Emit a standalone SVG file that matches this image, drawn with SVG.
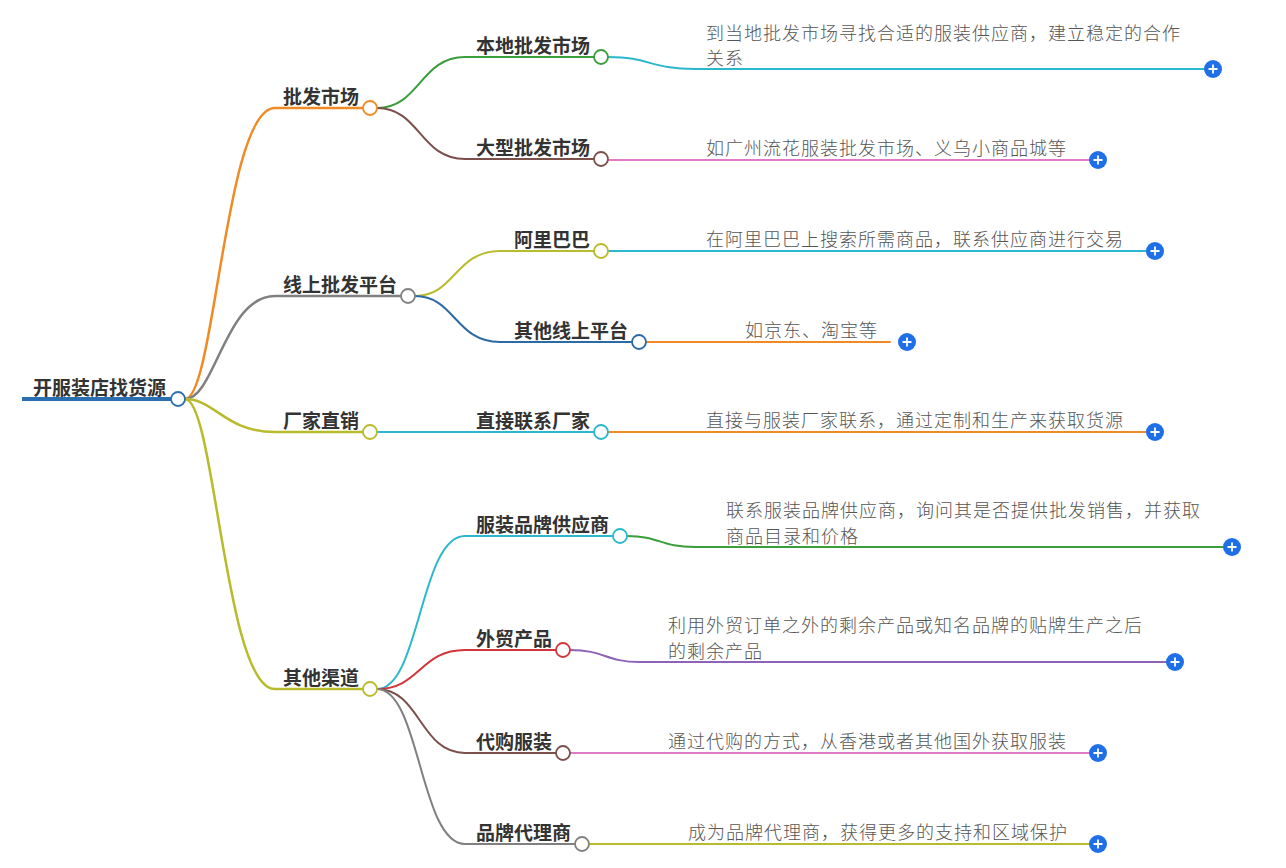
<svg xmlns="http://www.w3.org/2000/svg" width="1286" height="868" viewBox="0 0 1286 868">
<style>
.b{font-family:"Noto Sans CJK SC","Liberation Sans",sans-serif;font-size:19px;font-weight:700;fill:#333}
.l{font-family:"Noto Sans CJK SC","Liberation Sans",sans-serif;font-size:18px;letter-spacing:1px;font-weight:300;fill:#555}
.c{fill:#fff;stroke-width:1.8}
.e{fill:none;stroke-linecap:round}
.p{fill:#1f6fe8}
.pl{stroke:#fff;stroke-width:1.8;fill:none}
</style>
<defs>
<g id="plus"><circle r="9" class="p"/><path class="pl" d="M-4.5,0H4.5M0,-4.5V4.5"/></g>
</defs>
<rect width="1286" height="868" fill="#fff"/>
<g id="connectors">
<path class="e" stroke="#f08a24" stroke-width="2.5" d="M185,399 C215,399 225,108 275,108 H363"/>
<path class="e" stroke="#808080" stroke-width="2.5" d="M185,399 C215,399 225,296 275,296 H401"/>
<path class="e" stroke="#b8bb2c" stroke-width="2.5" d="M185,399 C215,399 225,432 275,432 H363"/>
<path class="e" stroke="#b8bb2c" stroke-width="2.5" d="M185,399 C215,399 225,689 275,689 H363"/>
<path class="e" stroke="#3a9e3a" stroke-width="2" d="M377,108 C420,108 420,57 465,57 H594"/>
<path class="e" stroke="#7b4f4a" stroke-width="2" d="M377,108 C420,108 420,159 465,159 H594"/>
<path class="e" stroke="#b8bb2c" stroke-width="2" d="M415,296 C455,296 455,251 500,251 H594"/>
<path class="e" stroke="#2c6aa6" stroke-width="2" d="M415,296 C455,296 455,342 500,342 H632"/>
<path class="e" stroke="#2bb8cc" stroke-width="2" d="M377,432 H594"/>
<path class="e" stroke="#2bb8cc" stroke-width="2" d="M377,689 C420,689 420,536 465,536 H613"/>
<path class="e" stroke="#d0363a" stroke-width="2" d="M377,689 C420,689 420,650 465,650 H556"/>
<path class="e" stroke="#7b4f4a" stroke-width="2" d="M377,689 C420,689 420,753 465,753 H556"/>
<path class="e" stroke="#808080" stroke-width="2" d="M377,689 C420,689 420,844 465,844 H575"/>
<path class="e" stroke="#2bb8cc" stroke-width="2" d="M608,57 C650,57 650,69 695,69 H1204"/>
<path class="e" stroke="#e07ac8" stroke-width="2" d="M608,160 H1089"/>
<path class="e" stroke="#2bb8cc" stroke-width="2" d="M608,251 H1146"/>
<path class="e" stroke="#f08a24" stroke-width="2" d="M646,342 H890"/>
<path class="e" stroke="#f08a24" stroke-width="2" d="M608,432 H1146"/>
<path class="e" stroke="#3a9e3a" stroke-width="2" d="M627,536 C660,536 660,547 695,547 H1223"/>
<path class="e" stroke="#8e62b6" stroke-width="2" d="M570,650 C605,650 605,662 640,662 H1166"/>
<path class="e" stroke="#e07ac8" stroke-width="2" d="M570,753 H1089"/>
<path class="e" stroke="#b8bb2c" stroke-width="2" d="M589,844 H1089"/>
</g>
<g id="root">
<path d="M22,399 H171" stroke="#2a6faf" stroke-width="4"/>
<text class="b" x="33" y="395">开服装店找货源</text>
<circle class="c" cx="178" cy="399" r="7" stroke="#2a6faf"/>
</g>
<g id="n-pifa"><text class="b" x="283" y="104">批发市场</text><circle class="c" cx="370" cy="108" r="7" stroke="#f08a24"/></g>
<g id="n-xianshang"><text class="b" x="283" y="292">线上批发平台</text><circle class="c" cx="408" cy="296" r="7" stroke="#808080"/></g>
<g id="n-changjia"><text class="b" x="283" y="428">厂家直销</text><circle class="c" cx="370" cy="432" r="7" stroke="#b8bb2c"/></g>
<g id="n-qita"><text class="b" x="283" y="685">其他渠道</text><circle class="c" cx="370" cy="689" r="7" stroke="#b8bb2c"/></g>
<g id="n-bendi"><text class="b" x="476" y="53">本地批发市场</text><circle class="c" cx="601" cy="57" r="7" stroke="#3a9e3a"/></g>
<g id="n-daxing"><text class="b" x="476" y="155">大型批发市场</text><circle class="c" cx="601" cy="159" r="7" stroke="#7b4f4a"/></g>
<g id="n-alibaba"><text class="b" x="514" y="247">阿里巴巴</text><circle class="c" cx="601" cy="251" r="7" stroke="#b8bb2c"/></g>
<g id="n-qitaxs"><text class="b" x="514" y="338">其他线上平台</text><circle class="c" cx="639" cy="342" r="7" stroke="#2c6aa6"/></g>
<g id="n-zhijie"><text class="b" x="476" y="428">直接联系厂家</text><circle class="c" cx="601" cy="432" r="7" stroke="#2bb8cc"/></g>
<g id="n-pinpai"><text class="b" x="476" y="532">服装品牌供应商</text><circle class="c" cx="620" cy="536" r="7" stroke="#2bb8cc"/></g>
<g id="n-waimao"><text class="b" x="476" y="646">外贸产品</text><circle class="c" cx="563" cy="650" r="7" stroke="#d0363a"/></g>
<g id="n-daigou"><text class="b" x="476" y="749">代购服装</text><circle class="c" cx="563" cy="753" r="7" stroke="#7b4f4a"/></g>
<g id="n-daili"><text class="b" x="476" y="840">品牌代理商</text><circle class="c" cx="582" cy="844" r="7" stroke="#808080"/></g>
<g id="l-bendi"><text class="l" x="706" y="40">到当地批发市场寻找合适的服装供应商，建立稳定的合作</text><text class="l" x="706" y="65">关系</text><use href="#plus" x="1213" y="69"/></g>
<g id="l-daxing"><text class="l" x="706" y="155">如广州流花服装批发市场、义乌小商品城等</text><use href="#plus" x="1098" y="160"/></g>
<g id="l-alibaba"><text class="l" x="706" y="246">在阿里巴巴上搜索所需商品，联系供应商进行交易</text><use href="#plus" x="1155" y="251"/></g>
<g id="l-qitaxs"><text class="l" x="745" y="337">如京东、淘宝等</text><use href="#plus" x="907" y="342"/></g>
<g id="l-zhijie"><text class="l" x="706" y="427">直接与服装厂家联系，通过定制和生产来获取货源</text><use href="#plus" x="1155" y="432"/></g>
<g id="l-pinpai"><text class="l" x="726" y="517">联系服装品牌供应商，询问其是否提供批发销售，并获取</text><text class="l" x="726" y="543">商品目录和价格</text><use href="#plus" x="1232" y="547"/></g>
<g id="l-waimao"><text class="l" x="668" y="632">利用外贸订单之外的剩余产品或知名品牌的贴牌生产之后</text><text class="l" x="668" y="658">的剩余产品</text><use href="#plus" x="1175" y="662"/></g>
<g id="l-daigou"><text class="l" x="668" y="748">通过代购的方式，从香港或者其他国外获取服装</text><use href="#plus" x="1098" y="753"/></g>
<g id="l-daili"><text class="l" x="688" y="839">成为品牌代理商，获得更多的支持和区域保护</text><use href="#plus" x="1098" y="844"/></g>
</svg>
